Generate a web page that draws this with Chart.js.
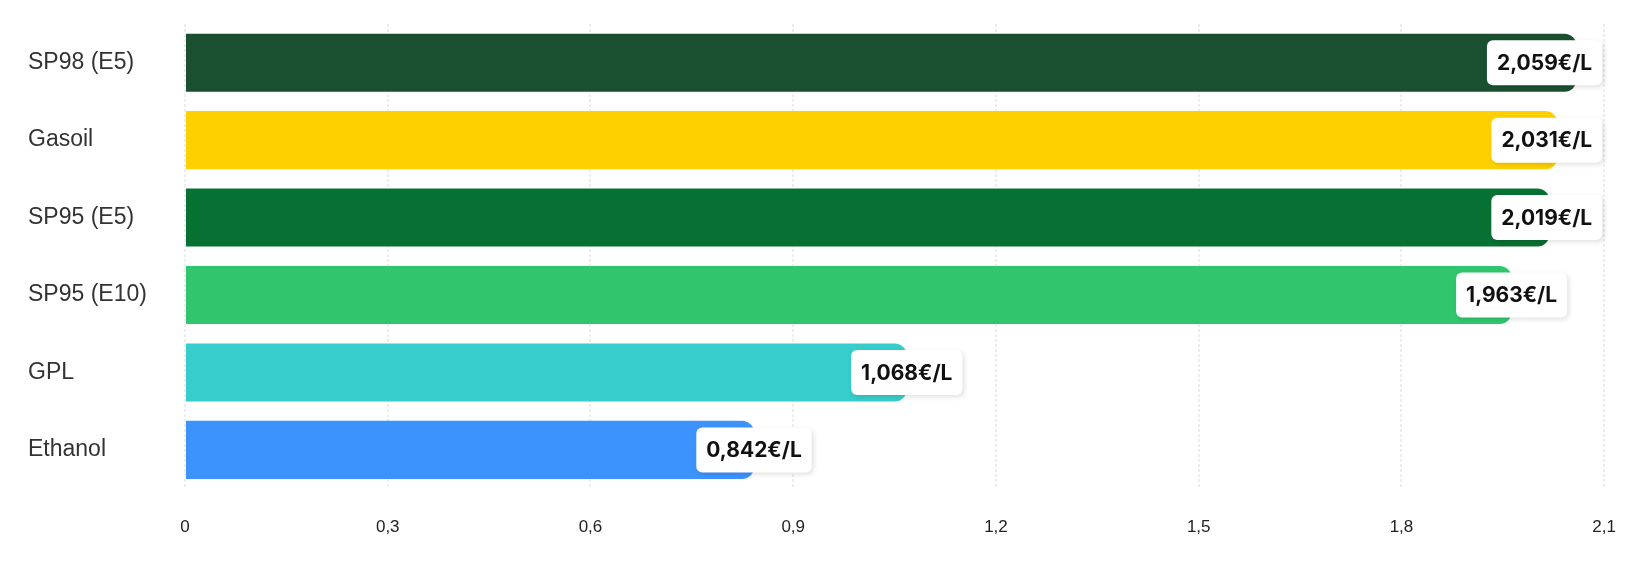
<!DOCTYPE html>
<html>
<head>
<meta charset="utf-8">
<script src="https://cdn.jsdelivr.net/npm/chart.js@4"></script>
<style>
  html, body { margin: 0; padding: 0; background: #fff; }
  #wrap { width: 1645px; height: 568px; position: relative; }
</style>
</head>
<body>
<div id="wrap"><canvas id="fuelChart"></canvas></div>
<script>
// donnees du graphique
const fuels = ['SP98 (E5)', 'Gasoil', 'SP95 (E5)', 'SP95 (E10)', 'GPL', 'Ethanol'];
const prices = [2.059, 2.031, 2.019, 1.963, 1.068, 0.842];
const barColors = ['#1a5030', '#ffd000', '#077033', '#31c66d', '#36cdcc', '#3d93fd'];
const xTickValues = [0, 0.3, 0.6, 0.9, 1.2, 1.5, 1.8, 2.1];

const fmtPrice = (v) => v.toFixed(3).replace('.', ',') + '€/L';

// etiquettes blanches au bout des barres
const priceTags = {
  id: 'priceTags',
  afterDatasetsDraw(chart) {
    const ctx = chart.ctx;
    const area = chart.chartArea;
    const meta = chart.getDatasetMeta(0);
    ctx.save();
    ctx.font = '700 21px Inter, "DejaVu Sans", sans-serif';
    ctx.textBaseline = 'middle';
    ctx.textAlign = 'left';
    meta.data.forEach((bar, i) => {
      const text = fmtPrice(prices[i]);
      const tw = ctx.measureText(text).width;
      const w = tw + 20;
      const h = 45;
      let left = bar.x - w / 2;
      if (left + w > area.right - 2) left = area.right - 2 - w;
      const top = bar.y - h / 2;
      ctx.save();
      ctx.shadowColor = 'rgba(0,0,0,0.12)';
      ctx.shadowBlur = 5;
      ctx.shadowOffsetX = 2;
      ctx.shadowOffsetY = 2;
      ctx.fillStyle = '#fff';
      ctx.beginPath();
      ctx.roundRect(left, top, w, h, 6);
      ctx.fill();
      ctx.restore();
      ctx.fillStyle = '#111';
      ctx.fillText(text, left + 10, bar.y + 1);
    });
    ctx.restore();
  }
};

new Chart(document.getElementById('fuelChart'), {
  type: 'bar',
  data: {
    labels: fuels,
    datasets: [{
      data: prices,
      backgroundColor: barColors,
      borderRadius: 12,
      borderSkipped: 'start',
      barPercentage: 0.75,
      categoryPercentage: 1,
    }],
  },
  options: {
    indexAxis: 'y',
    responsive: true,
    maintainAspectRatio: false,
    animation: false,
    layout: { padding: { left: 28, right: 38, top: 24, bottom: 1 } },
    plugins: {
      legend: { display: false },
      tooltip: { enabled: false },
    },
    scales: {
      x: {
        min: 0,
        max: 2.1,
        afterBuildTicks: (axis) => { axis.ticks = xTickValues.map(v => ({ value: v })); },
        grid: { color: 'rgba(0,0,0,0.07)', lineWidth: 2, drawTicks: false },
        border: { display: false, dash: [3, 2] },
        ticks: {
          padding: 29,
          color: '#222',
          font: { family: 'Arial, "Liberation Sans", sans-serif', size: 17 },
          callback: (v) => String(Math.round(v * 10) / 10).replace('.', ','),
        },
      },
      y: {
        afterFit: (axis) => { axis.width = 157; },
        grid: { display: false },
        border: { display: false },
        ticks: {
          crossAlign: 'far',
          color: '#333',
          font: { family: 'Arial, "Liberation Sans", sans-serif', size: 23 },
        },
      },
    },
  },
  plugins: [priceTags],
});
</script>
</body>
</html>
